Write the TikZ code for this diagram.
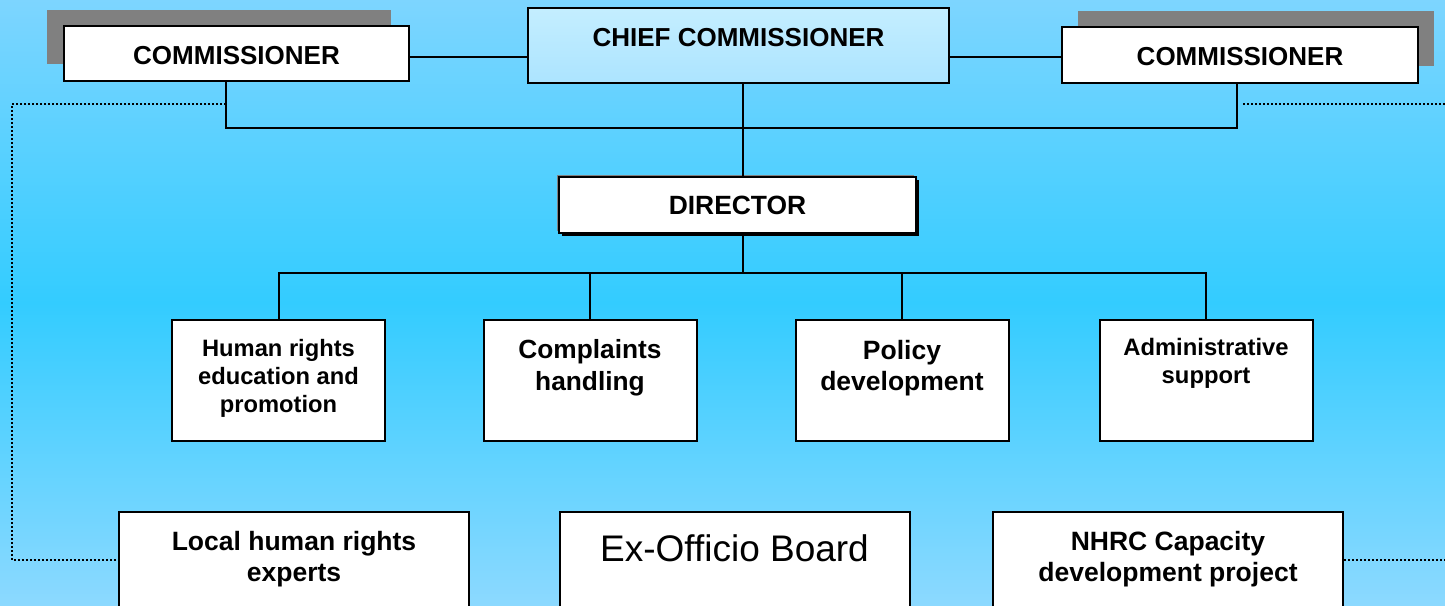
\documentclass[tikz,border=0pt]{standalone}
\usepackage{fontspec}
\setmainfont{Liberation Sans}
\definecolor{bgtop}{RGB}{125,213,255}
\definecolor{bgmid}{RGB}{51,204,255}
\definecolor{bgbot}{RGB}{140,217,255}
\definecolor{chieftop}{RGB}{196,238,255}
\definecolor{chiefbot}{RGB}{172,228,255}
\definecolor{shadowgray}{RGB}{128,128,128}
\newcommand{\mlines}[1]{\begin{tabular}[t]{@{}c@{}}#1\end{tabular}}
\begin{document}
\begin{tikzpicture}[x=1pt,y=-1pt,
  conn/.style={line width=2pt},
  dotconn/.style={line width=2pt, dash pattern=on 2pt off 2pt},
  box/.style={rectangle, draw=black, line width=2pt, fill=white, inner sep=0pt},
  shade/.style={rectangle, fill=shadowgray, draw=none, inner sep=0pt},
  lbl/.style={anchor=base, inner sep=0pt, font=\bfseries\fontsize{26}{31}\selectfont},
  midbox/.style={box, minimum width=213pt, minimum height=121pt},
  lowbox/.style={box, minimum width=350pt, minimum height=120pt}
]
\useasboundingbox (0,0) rectangle (1445,605);
\clip (0,0) rectangle (1445,605);
\shade[top color=bgtop, bottom color=bgbot, middle color=bgmid] (0,0) rectangle (1445,605);

% named levels
\coordinate (hy) at (0,57);
\coordinate (bary) at (0,128);
\coordinate (bar2y) at (0,273);
\coordinate (trunkx) at (742.5,0);
\coordinate (lx) at (226,0);
\coordinate (rx) at (1237,0);
\coordinate (dy1) at (0,104);
\coordinate (dy2) at (0,560);
\coordinate (dl) at (12,0);
\coordinate (edge) at (1450,0);
\coordinate (rds) at (1243,104);

% top row
\node[shade, minimum width=344pt, minimum height=54pt] (lcs) at (219,37) {};
\node[shade, minimum width=356pt, minimum height=55pt] (rcs) at (1256,38.5) {};
\node[box, minimum width=345pt, minimum height=55pt] (lc) at (236.5,53.5) {};
\node[box, minimum width=356pt, minimum height=56pt] (rc) at (1240,55) {};
\node[box, top color=chieftop, bottom color=chiefbot, minimum width=421pt, minimum height=75pt] (cc) at (738.5,45.5) {};
\node[lbl] (lct) at (236.5,64) {COMMISSIONER};
\node[lbl] (cct) at (738.5,46) {CHIEF COMMISSIONER};
\node[lbl] (rct) at (1240,65) {COMMISSIONER};

% director
\node[shade, minimum width=357pt, minimum height=56pt] (dirg) at (735.5,203) {};
\node[rectangle, fill=black, inner sep=0pt, minimum width=357pt, minimum height=56pt] (dirb) at (740.5,208) {};
\node[box, minimum width=357pt, minimum height=56pt] (dir) at (737.5,205) {};
\node[lbl, font=\bfseries\fontsize{26.4}{31}\selectfont] (dirt) at (737.5,214.5) {DIRECTOR};

% middle row
\node[midbox] (m1) at (278.5,380.5) {};
\node[midbox] (m2) at (590,380.5) {};
\node[midbox] (m3) at (902,380.5) {};
\node[midbox] (m4) at (1206,380.5) {};
\node[lbl, font=\bfseries\fontsize{23.7}{28}\selectfont] (m1t) at (278.5,356.5) {\mlines{Human rights\\education and\\promotion}};
\node[lbl, font=\bfseries\fontsize{26.3}{32}\selectfont] (m2t) at (590,358) {\mlines{Complaints\\handling}};
\node[lbl, font=\bfseries\fontsize{26.5}{31}\selectfont] (m3t) at (902,359) {\mlines{Policy\\development}};
\node[lbl, font=\bfseries\fontsize{23.8}{28}\selectfont] (m4t) at (1206,355.5) {\mlines{Administrative\\support}};

% bottom row
\node[lowbox] (b1) at (294,572) {};
\node[lowbox] (b2) at (734.5,572) {};
\node[lowbox] (b3) at (1168,572) {};
\node[lbl, font=\bfseries\fontsize{26.5}{31}\selectfont] (b1t) at (294,550) {\mlines{Local human rights\\experts}};
\node[lbl, font=\fontsize{37}{44}\selectfont] (b2t) at (734.5,561) {Ex-Officio Board};
\node[lbl, font=\bfseries\fontsize{26.5}{31}\selectfont] (b3t) at (1168,550) {\mlines{NHRC Capacity\\development project}};

% connectors
\draw[conn] (lc.east |- hy) -- (cc.west |- hy);
\draw[conn] (cc.east |- hy) -- (rc.west |- hy);
\draw[conn] (lc.south -| lx) -- (lx |- bary) -- (rx |- bary) -- (rc.south -| rx);
\draw[conn] (cc.south -| trunkx) -- (dir.north -| trunkx);
\draw[conn] (dir.south -| trunkx) -- (trunkx |- bar2y);
\draw[conn] (m1.north) -- (m1 |- bar2y) -- (m4 |- bar2y) -- (m4.north);
\draw[conn] (m2.north) -- (m2 |- bar2y);
\draw[conn] (m3.north) -- (m3 |- bar2y);

% dotted links
\draw[dotconn] (lx |- dy1) -- (dl |- dy1) -- (dl |- dy2) -- (b1.west |- dy2);
\draw[dotconn] (rds) -- (edge |- dy1);
\draw[dotconn] (b3.east |- dy2) -- (edge |- dy2);
\end{tikzpicture}
\end{document}
